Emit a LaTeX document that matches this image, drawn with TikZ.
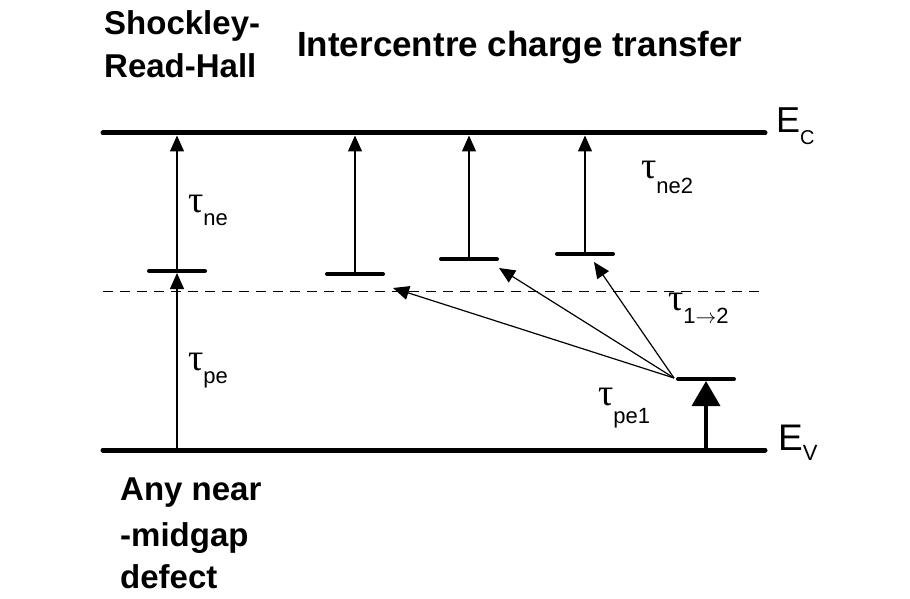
\documentclass[tikz,border=0pt]{standalone}
\usepackage{fontspec}
\setmainfont{Liberation Sans}
\newfontfamily\greekfont{Liberation Serif}
\usetikzlibrary{arrows.meta}

\tikzset{
  band/.style={line width=5pt, line cap=round},
  level/.style={line width=4pt, line cap=round},
  jump/.style={-{Triangle[width=14pt,length=16pt]}, line width=1.3pt, shorten >=2pt},
  bigjump/.style={-{Triangle[width=28pt,length=25pt]}, line width=3.5pt, shorten >=2pt},
  hop/.style={-{Triangle[width=14pt,length=16pt]}, line width=1.2pt},
  boldlabel/.style={font=\bfseries\fontsize{33}{43}\selectfont, inner sep=0pt, anchor=base west},
  ratelabel/.style={inner sep=0pt, anchor=base west},
}
\newcommand{\taulab}[2][13pt]{{\greekfont\fontsize{38}{38}\selectfont τ}\raisebox{-#1}{\fontsize{22}{22}\selectfont #2}}

\begin{document}
\begin{tikzpicture}[x=1pt,y=-1pt]
\useasboundingbox (0,0) rectangle (910,599);

% Band edges and midgap line
\coordinate (ecL) at (103,133);
\coordinate (ecR) at (765,133);
\coordinate (evL) at (103,450);
\coordinate (evR) at (765,450);
\coordinate (midL) at (103,291);
\coordinate (midR) at (763,291);
\draw[band] (ecL) -- (ecR);
\draw[band] (evL) -- (evR);
\draw[line width=1pt, dash pattern=on 10pt off 7pt] (midL) -- (midR);

% Defect levels
\coordinate (srh) at (177,271);
\coordinate (lv1) at (355,274);
\coordinate (lv2) at (469,259);
\coordinate (lv3) at (585,254);
\coordinate (lvb) at (706,379);
\foreach \lv in {srh,lv1,lv2,lv3,lvb}{
  \draw[level] ([xshift=-28pt]\lv) -- ([xshift=28pt]\lv);
}

% Emission to the conduction band
\draw[jump] (srh |- evL) -- (srh);
\foreach \lv in {srh,lv1,lv2,lv3}{
  \draw[jump] (\lv) -- ([yshift=-0.5pt]\lv |- ecL);
}
\draw[bigjump] (lvb |- evL) -- (lvb);

% Intercentre transfer
\coordinate (hopfrom) at (674,378);
\coordinate (hop1) at (393,288);
\coordinate (hop2) at (499,268);
\coordinate (hop3) at (594,262);
\foreach \h in {hop1,hop2,hop3}{
  \draw[hop] (hopfrom) -- (\h);
}

% Labels
\node[ratelabel] (ec) at (776,133) {\fontsize{36}{36}\selectfont E\raisebox{-12pt}{\fontsize{20}{20}\selectfont C}};
\node[ratelabel] (ev) at (778,450) {\fontsize{37}{37}\selectfont E\raisebox{-10pt}{\fontsize{22}{22}\selectfont V}};
\node[ratelabel] (tne) at (188,212) {\taulab{ne}};
\node[ratelabel] (tpe) at (188,370) {\taulab{pe}};
\node[ratelabel] (tne2) at (641,178) {\taulab[16pt]{ne2}};
\node[ratelabel] (t12) at (668,310) {\taulab{1\(\rightarrow\)2}};
\node[ratelabel] (tpe1) at (598,405) {\taulab[18pt]{pe1}};

\node[boldlabel] (srhA) at (104,35) {Shockley-};
\node[boldlabel] (srhB) at (104,78) {Read-Hall};
\node[boldlabel, font=\bfseries\fontsize{35}{43}\selectfont] (ict) at (297,57) {Intercentre charge transfer};
\foreach \txt/\y [count=\k] in {Any near/500,-midgap/546,defect/588}{
  \node[boldlabel] (def\k) at (120,\y) {\txt};
}
\end{tikzpicture}
\end{document}
